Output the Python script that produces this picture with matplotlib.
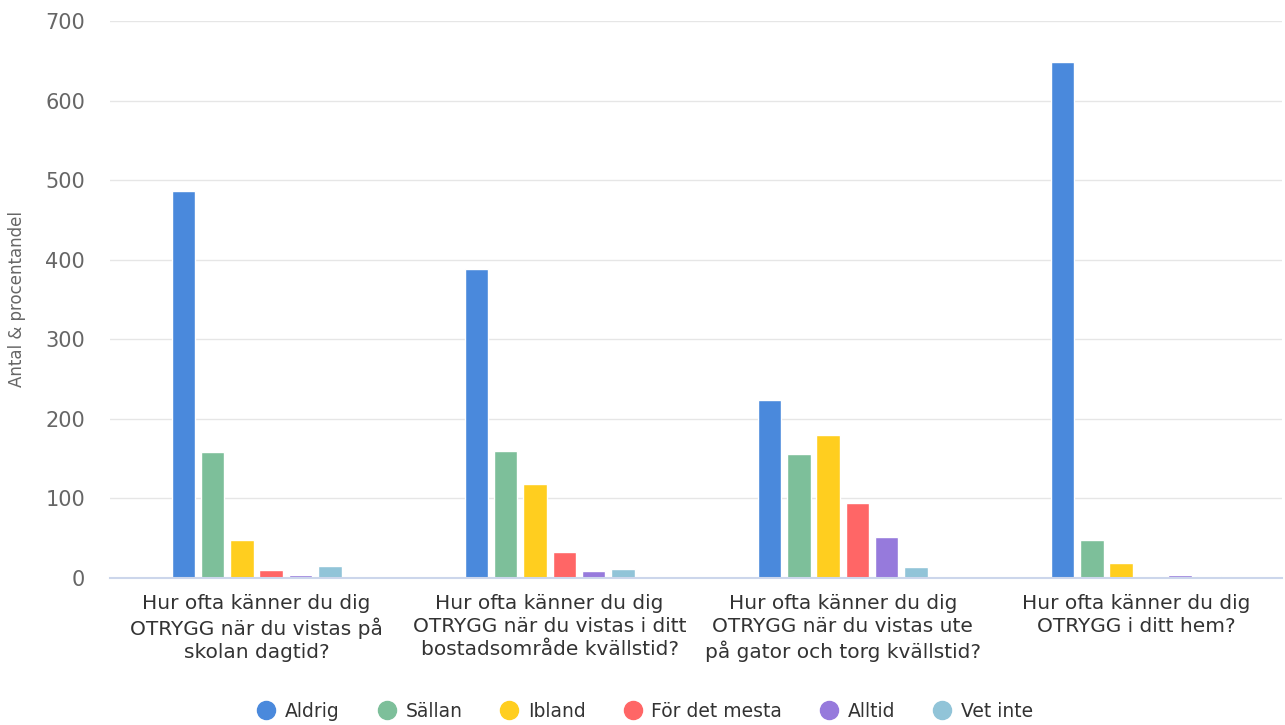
import matplotlib.pyplot as plt
import numpy as np

# kategorier (fragor) och svar
categories = [
    "Hur ofta känner du dig\nOTRYGG när du vistas på\nskolan dagtid?",
    "Hur ofta känner du dig\nOTRYGG när du vistas i ditt\nbostadsområde kvällstid?",
    "Hur ofta känner du dig\nOTRYGG när du vistas ute\npå gator och torg kvällstid?",
    "Hur ofta känner du dig\nOTRYGG i ditt hem?",
]
series_names = ["Aldrig", "Sällan", "Ibland", "För det mesta", "Alltid", "Vet inte"]
aldrig = [486, 388, 224, 648]
sallan = [158, 160, 156, 47]
ibland = [47, 118, 179, 19]
for_det_mesta = [10, 33, 94, 0]
alltid = [4, 9, 51, 4]
vet_inte = [15, 11, 13, 2]
yticks = [0, 100, 200, 300, 400, 500, 600, 700]

colors = ["#4A89DC", "#7DBF9A", "#FFCE1F", "#FF6666", "#967ADC", "#91C4D8"]
all_series = [aldrig, sallan, ibland, for_det_mesta, alltid, vet_inte]

plt.rcParams['font.family'] = ['DejaVu Sans']

fig = plt.figure(figsize=(12.85, 7.25), dpi=100)
ax = fig.add_axes([0.0856, 0.203, 0.9124, 0.768])

x = np.arange(len(categories))
slot = 0.1
for i, (name, vals) in enumerate(zip(series_names, all_series)):
    offs = (i - 2.5) * slot
    ax.bar(x + offs, vals, width=0.08, color=colors[i], edgecolor='white',
           linewidth=1, label=name, zorder=3)

ax.set_xlim(-0.5, 3.5)
ax.set_ylim(0, 700)
ax.set_yticks(yticks)
ax.set_yticklabels([str(v) for v in yticks], fontsize=15, color='#666666')
ax.set_xticks(x)
ax.set_xticklabels(categories, fontsize=14.5, color='#333333', linespacing=1.25)
ax.tick_params(axis='y', length=0, pad=18)
ax.tick_params(axis='x', length=0, pad=12)
ax.grid(axis='y', color='#e6e6e6', linewidth=1, zorder=0)
for s in ['top', 'right', 'left']:
    ax.spines[s].set_visible(False)
ax.spines['bottom'].set_color('#ccd6eb')
ax.spines['bottom'].set_linewidth(1.5)
ax.spines['bottom'].set_zorder(4)

ax.set_ylabel("Antal & procentandel", fontsize=12, color='#666666', labelpad=14)

# cirklar i legenden
handles = [plt.Line2D([], [], marker='o', linestyle='', markersize=13,
                      markerfacecolor=c, markeredgecolor=c) for c in colors]
fig.legend(handles, series_names, loc='center', bbox_to_anchor=(0.502, 0.019), ncol=6,
           frameon=False, fontsize=13.5, handlelength=1.0, columnspacing=2.0,
           handletextpad=0.5, labelcolor='#333333')

fig.savefig("out.png", dpi=100)
